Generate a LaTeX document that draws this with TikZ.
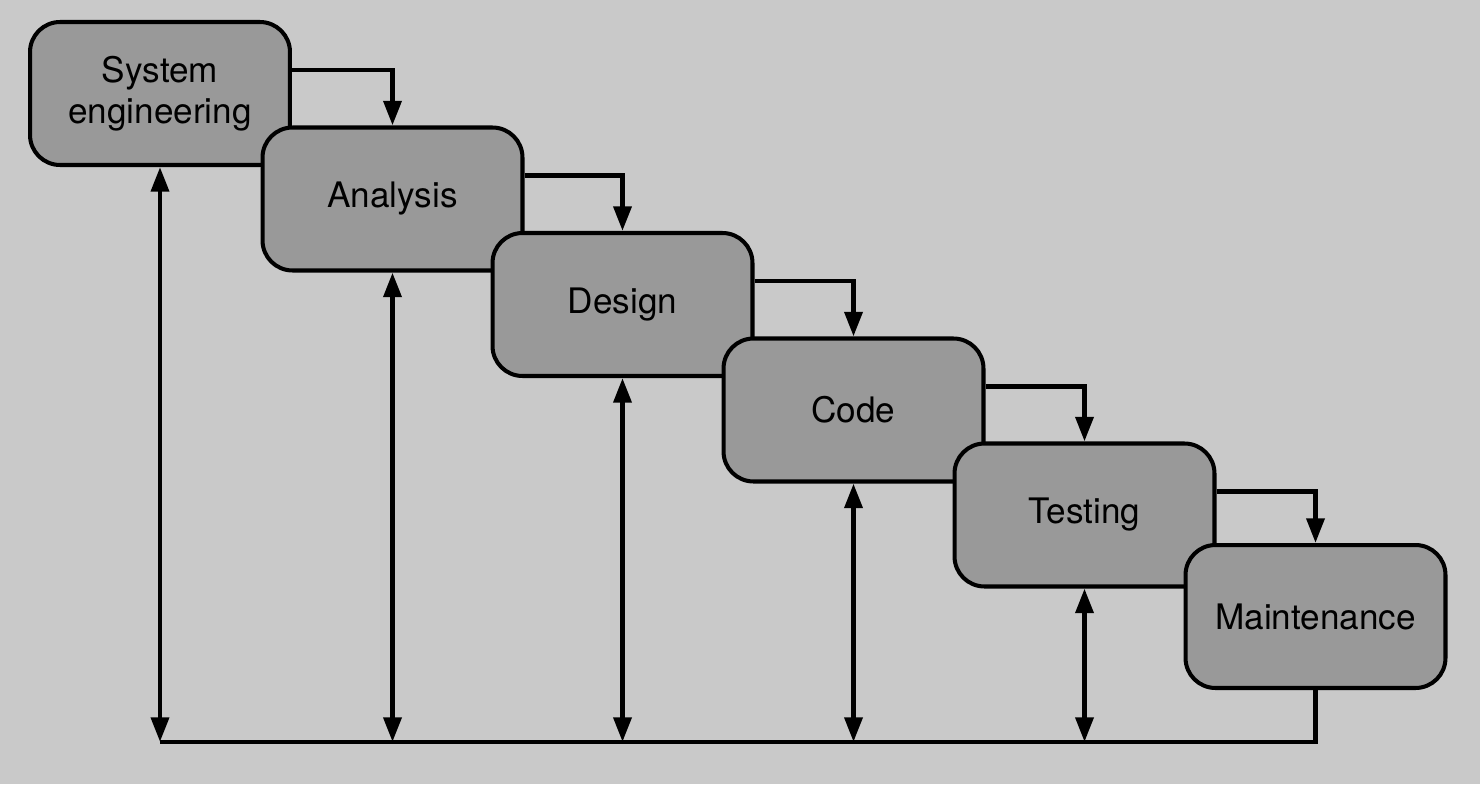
\documentclass[tikz,border=0pt]{standalone}
\usepackage{fontspec}
\setmainfont{TeX Gyre Heros}
\usetikzlibrary{arrows.meta}

\tikzset{
  phase/.style={draw=black, line width=2.3pt, fill=black!40, rounded corners=0.6cm,
    minimum width=5.2cm, minimum height=2.86cm, align=center, inner sep=2pt,
    font=\fontsize{20}{23.5}\selectfont},
  flow/.style={line width=2.7pt, -{Triangle[length=14pt,width=10pt]}},
  back/.style={line width=2.7pt, {Triangle[length=14pt,width=10pt]}-{Triangle[length=14pt,width=10pt]}}
}

\begin{document}
\begin{tikzpicture}[x=0.02cm, y=-0.02cm]
    \fill[black!21] (0, 0) rectangle (1480, 784);
    \useasboundingbox (0, 0) rectangle (1480, 784);
    \node[phase] (sys) at (160, 93.5) {System\\engineering};
    \node[phase] (ana) at (392.5, 199) {Analysis};
    \node[phase] (des) at (622.5, 304.5) {Design};
    \node[phase] (cod) at (853.5, 410) {Code};
    \node[phase] (tes) at (1084.5, 515) {Testing};
    \node[phase] (mai) at (1315.5, 616.5) {Maintenance};
    \coordinate (bot) at (0, 742);
    % going down the steps
    \draw[flow] ([yshift=0.47cm]sys.east) -| (ana.north);
    \draw[flow] ([yshift=0.47cm]ana.east) -| (des.north);
    \draw[flow] ([yshift=0.47cm]des.east) -| (cod.north);
    \draw[flow] ([yshift=0.47cm]cod.east) -| (tes.north);
    \draw[flow] ([yshift=0.47cm]tes.east) -| (mai.north);
    % feedback
    \draw[line width=2.7pt] (mai.south) -- (mai.south |- bot) -- (sys.south |- bot);
    \draw[back] (sys.south) -- (sys.south |- bot);
    \draw[back] (ana.south) -- (ana.south |- bot);
    \draw[back] (des.south) -- (des.south |- bot);
    \draw[back] (cod.south) -- (cod.south |- bot);
    \draw[back] (tes.south) -- (tes.south |- bot);
\end{tikzpicture}
\end{document}
